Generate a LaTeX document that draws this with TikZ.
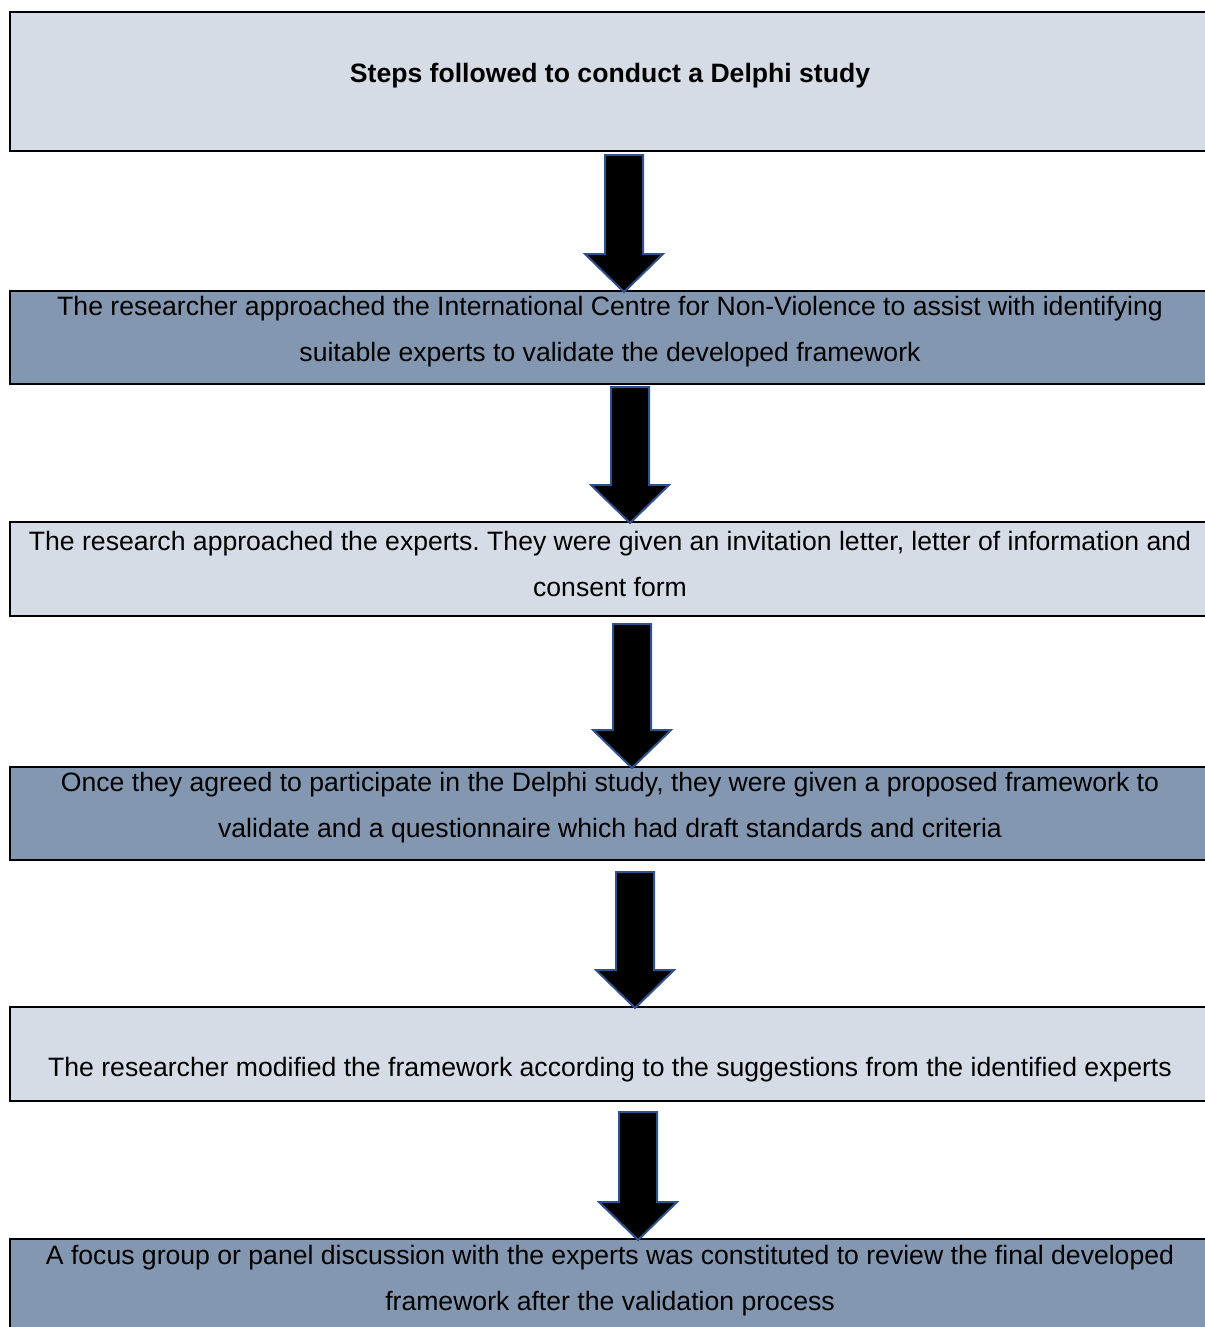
\documentclass[tikz,border=0pt]{standalone}
\usepackage{fontspec}
\setmainfont{Liberation Sans}
\usetikzlibrary{calc}
\definecolor{lightbox}{HTML}{D6DCE5}
\definecolor{darkbox}{HTML}{8497B0}
\definecolor{arrowline}{HTML}{2F528F}
\frenchspacing
\tikzset{
  stepbox/.style={draw, line width=2pt, anchor=north west, minimum width=1203pt, inner sep=0pt},
  steptext/.style={align=center, font=\fontsize{26.6}{46}\selectfont},
  bigarrow/.style={fill=black, draw=arrowline, line width=2pt, line join=miter}
}

\begin{document}
\begin{tikzpicture}[x=1pt,y=-1pt]
    \useasboundingbox (0,0) rectangle (1204,1327);

    % the boxes
    \node[stepbox, fill=lightbox, minimum height=139pt] (s1) at (9,11) {};
    \node[stepbox, fill=darkbox, minimum height=93pt] (s2) at (9,290) {};
    \node[stepbox, fill=lightbox, minimum height=94pt] (s3) at (9,521) {};
    \node[stepbox, fill=darkbox, minimum height=93pt] (s4) at (9,766) {};
    \node[stepbox, fill=lightbox, minimum height=94pt] (s5) at (9,1006) {};
    \node[stepbox, fill=darkbox, minimum height=93pt] (s6) at (9,1238) {};

    % the texts
    \node[steptext, font=\fontsize{26.6}{46}\selectfont\bfseries] (t1) at (610,76) {Steps followed to conduct a Delphi study};
    \node[steptext] (t2) at (610,332) {The researcher approached the International Centre for Non-Violence to assist with identifying\\suitable experts to validate the developed framework};
    \node[steptext] (t3) at (610,564) {The research approached the experts. They were given an invitation letter, letter of information and\\consent form};
    \node[steptext] (t4) at (610,808) {Once they agreed to participate in the Delphi study, they were given a proposed framework to\\validate and a questionnaire which had draft standards and criteria};
    \node[steptext] (t5) at (610,1070) {The researcher modified the framework according to the suggestions from the identified experts};
    \node[steptext] (t6) at (610,1281) {A focus group or panel discussion with the experts was constituted to review the final developed\\framework after the validation process};

    % the arrows
    \foreach \a/\b/\xm/\gap in {s1/s2/624/3, s2/s3/630/2, s3/s4/632/7, s4/s5/635/11, s5/s6/638/10}{
        \coordinate (top) at (\a.south -| \xm,0);
        \coordinate (tip) at (\b.north -| \xm,0);
        \filldraw[bigarrow] ($(top)+(-19,\gap)$) -- ($(top)+(19,\gap)$) -- ($(tip)+(19,-36)$)
            -- ($(tip)+(39,-36)$) -- ($(tip)+(0,2)$) -- ($(tip)+(-39,-36)$)
            -- ($(tip)+(-19,-36)$) -- cycle;
    }
\end{tikzpicture}
\end{document}
